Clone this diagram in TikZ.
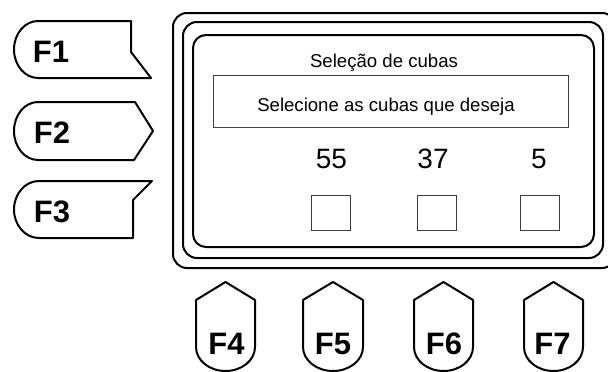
\documentclass[tikz,border=0pt]{standalone}
\usepackage{fontspec}
\setmainfont{Liberation Sans}

\begin{document}
\begin{tikzpicture}[x=1pt,y=-1pt,
  frame/.style={draw=black,line width=2pt,rounded corners=14pt},
  key/.style={draw=black,line width=2pt,line join=round},
  keylabel/.style={anchor=base,inner sep=0pt,font=\fontsize{31}{31}\selectfont\bfseries},
  screentext/.style={anchor=base,inner sep=0pt,font=\fontsize{18.6}{20}\selectfont},
  count/.style={anchor=base,inner sep=0pt,font=\fontsize{28}{28}\selectfont},
  msgbox/.style={draw=black!75,line width=1pt,minimum width=355pt,minimum height=52pt,inner sep=0pt},
  check/.style={draw=black!75,line width=1pt,minimum width=39pt,minimum height=35pt,inner sep=0pt}]
\useasboundingbox (0,0) rectangle (608,372);
\clip (0,0) rectangle (608,372);
\draw[frame] (173,13) rectangle (616,268);
\draw[frame] (183,22) rectangle (603,258);
\draw[frame,rounded corners=13pt] (193,35) rectangle (594,247);
\node[screentext] (title) at (384,67) {Seleção de cubas};
\node[msgbox] (msgbox) at (390.5,101) {};
\node[screentext] (msg) at (386,111) {Selecione as cubas que deseja};
\node[count] (n55) at (331.5,168) {55};
\node[count] (n37) at (433,168) {37};
\node[count] (n5) at (539,168) {5};
\node[check] (c55) at (330.5,212.5) {};
\node[check] (c37) at (436.5,212.5) {};
\node[check] (c5) at (540,212.5) {};
\draw[key] (38,21) arc[start angle=270,end angle=90,x radius=24,y radius=28.5] -- (151,78) -- (131,52) -- (131,21) -- cycle;
\draw[key] (38,102) arc[start angle=270,end angle=90,x radius=24,y radius=29] -- (134,160) -- (153,131) -- (135,102) -- cycle;
\draw[key] (39,181) arc[start angle=270,end angle=90,x radius=25,y radius=28.5] -- (133,238) -- (133,200) -- (152,181) -- cycle;
\node[keylabel] (f1) at (51,62) {F1};
\node[keylabel] (f2) at (52,143) {F2};
\node[keylabel] (f3) at (52,222) {F3};
\draw[key] (196,300) -- (225.5,282) -- (255,300) -- (255,347) arc[start angle=0,end angle=180,x radius=29.5,y radius=24] -- cycle;
\draw[key] (303,300) -- (333,282) -- (363,300) -- (363,347) arc[start angle=0,end angle=180,x radius=30,y radius=24] -- cycle;
\draw[key] (414,300) -- (443.5,282) -- (473,300) -- (473,347) arc[start angle=0,end angle=180,x radius=29.5,y radius=24] -- cycle;
\draw[key] (524,300) -- (553.5,282) -- (583,300) -- (583,347) arc[start angle=0,end angle=180,x radius=29.5,y radius=24] -- cycle;
\node[keylabel] (f4) at (226.5,354) {F4};
\node[keylabel] (f5) at (333,354) {F5};
\node[keylabel] (f6) at (444,354) {F6};
\node[keylabel] (f7) at (552.5,354) {F7};
\end{tikzpicture}
\end{document}
